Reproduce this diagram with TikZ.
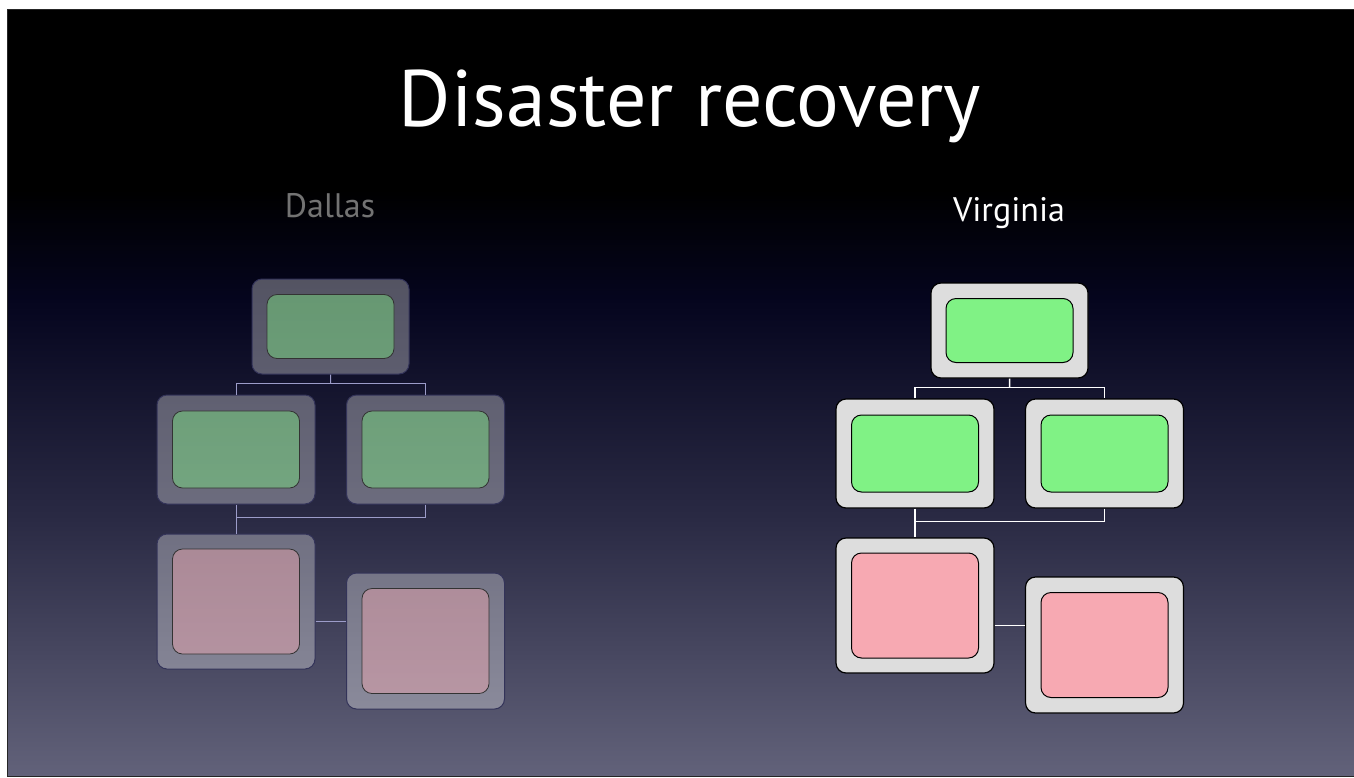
\documentclass[tikz,border=0pt]{standalone}
\usepackage{fontspec}
\setmainfont{PT Sans}
\usetikzlibrary{calc}
\definecolor{slidenavy}{HTML}{05051E}
\definecolor{slidemid}{HTML}{2A2A44}
\definecolor{slidegray}{HTML}{62627A}
\definecolor{srvgreen}{HTML}{80F285}
\definecolor{srvred}{HTML}{F7A9B2}
\definecolor{srvgray}{HTML}{DDDDDD}

\begin{document}
\begin{tikzpicture}[x=0.5pt,y=-0.5pt,
   box/.style 2 args={minimum width=#1,minimum height=#2,inner sep=0pt,rounded corners=5pt},
   dout/.style={fill=white,fill opacity=0.32,draw=black!75!blue!60!gray,line width=0.5pt},
   vout/.style={fill=srvgray,draw=black,line width=0.6pt},
   din/.style={fill=#1,fill opacity=0.43,draw=black!60!gray,line width=0.4pt},
   vin/.style={fill=#1,draw=black,line width=0.5pt},
   dwire/.style={draw=gray!70!blue!60!white,line width=0.5pt},
   vwire/.style={draw=white,line width=0.75pt},
   site/.style={font=\fontsize{17}{20}\selectfont,anchor=base}]
 \useasboundingbox (0,0) rectangle (1354,777);

 % slide
 \fill[black] (7,9) rectangle (1354,190);
 \shade[top color=black,bottom color=slidenavy] (7,189.5) rectangle (1354,300);
 \shade[top color=slidenavy,bottom color=slidemid] (7,299.5) rectangle (1354,520);
 \shade[top color=slidemid,bottom color=slidegray] (7,519.5) rectangle (1354,776);
 \draw[black!85,line width=0.5pt] (7,9) rectangle (1354,776);

 \node[white,font=\fontsize{40}{46}\selectfont,anchor=base] (title) at (690,126) {Disaster recovery};

 \foreach \s/\dx/\dy/\o/\i/\w/\tc/\name in {d/0/0/dout/din/dwire/black!55!white/Dallas,
                                             v/679/4/vout/vin/vwire/white/Virginia}{
 \begin{scope}[shift={(\dx,\dy)}]
   \node[site,text=\tc] (\s-name) at (330,217) {\name};
   % servers
   \node[\o,box={78.5pt}{47.5pt}] (\s-top) at (330.5,326.5) {};
   \node[\o,box={79pt}{54.5pt}] (\s-ml) at (236,449.5) {};
   \node[\o,box={79pt}{54.5pt}] (\s-mr) at (425.5,449.5) {};
   \node[\o,box={79pt}{67.5pt}] (\s-bl) at (236,601.5) {};
   \node[\o,box={79pt}{68pt}] (\s-br) at (425.5,641) {};
   \node[\i=srvgreen,box={63.5pt}{32pt}] (\s-top-in) at (\s-top) {};
   \node[\i=srvgreen,box={63.5pt}{38.5pt}] (\s-ml-in) at (\s-ml) {};
   \node[\i=srvgreen,box={63.5pt}{38.5pt}] (\s-mr-in) at (\s-mr) {};
   \node[\i=srvred,box={63.5pt}{52.5pt}] (\s-bl-in) at (\s-bl) {};
   \node[\i=srvred,box={63.5pt}{52.5pt}] (\s-br-in) at (\s-br) {};
   % wires
   \coordinate (\s-bus1) at ($(\s-top.south)!.45!(\s-top.south |- \s-ml.north)$);
   \coordinate (\s-bus2) at ($(\s-ml.south)!.45!(\s-bl.north)$);
   \coordinate (\s-bus3) at ($(\s-bl.east)!.5!(\s-br.west)$);
   \draw[\w] (\s-top.south) -- (\s-bus1);
   \draw[\w] (\s-ml.north) |- (\s-bus1) -| (\s-mr.north);
   \draw[\w] (\s-ml.south) -- (\s-bl.north);
   \draw[\w] (\s-mr.south) |- (\s-bus2) -- (\s-ml.south |- \s-bus2);
   \draw[\w] (\s-bl.east |- \s-bus3) -- (\s-br.west |- \s-bus3);
 \end{scope}
 }
\end{tikzpicture}
\end{document}
